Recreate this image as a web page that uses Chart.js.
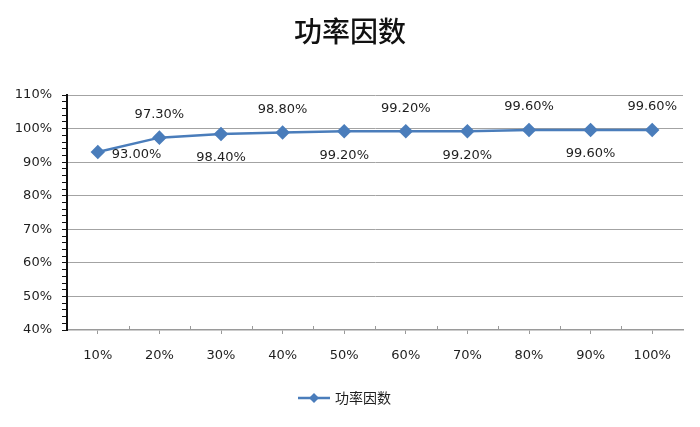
<!DOCTYPE html>
<html>
<head>
<meta charset="utf-8">
<script src="https://cdn.jsdelivr.net/npm/chart.js@4.4.1/dist/chart.umd.min.js"></script>
<style>
  html, body { margin: 0; padding: 0; background: #fff; }
  #wrap { width: 700px; height: 427px; position: relative; }
</style>
</head>
<body>
<div id="wrap"><canvas id="c" width="700" height="427"></canvas></div>
<script>
// Load rate categories and measured power factor (%)
const categories = ['10%', '20%', '30%', '40%', '50%', '60%', '70%', '80%', '90%', '100%'];
const powerFactor = [93.00, 97.30, 98.40, 98.80, 99.20, 99.20, 99.20, 99.60, 99.60, 99.60];
const seriesName = '功率因数';
const chartTitle = '功率因数';

const LINE_COLOR = '#4a7dbb';
const TEXT_COLOR = '#1e1e1e';
const FONT = '"DejaVu Sans", sans-serif';

// Title, legend, value labels and the small upward x-axis ticks
const decorations = {
  id: 'decorations',
  afterDatasetsDraw(chart) {
    const ctx = chart.ctx;
    const meta = chart.getDatasetMeta(0);
    ctx.save();
    ctx.fillStyle = TEXT_COLOR;
    ctx.font = '13px ' + FONT;
    meta.data.forEach((pt, i) => {
      const txt = powerFactor[i].toFixed(2) + '%';
      ctx.textBaseline = 'middle';
      if (i === 0) {
        ctx.textAlign = 'left';
        ctx.fillText(txt, pt.x + 14, pt.y + 3);
      } else if (i % 2 === 1) {
        ctx.textAlign = 'center';
        ctx.fillText(txt, pt.x, pt.y - 23);
      } else {
        ctx.textAlign = 'center';
        ctx.fillText(txt, pt.x, pt.y + 24);
      }
    });
    ctx.restore();
  },
  afterDraw(chart) {
    const ctx = chart.ctx;
    const x = chart.scales.x;
    const area = chart.chartArea;
    ctx.save();
    // category boundary ticks above the x axis
    ctx.strokeStyle = '#9a9a9a';
    ctx.lineWidth = 1;
    for (let i = 1; i < categories.length; i++) {
      const bx = Math.round((x.getPixelForValue(i - 1) + x.getPixelForValue(i)) / 2) + 0.5;
      ctx.beginPath();
      ctx.moveTo(bx, area.bottom);
      ctx.lineTo(bx, area.bottom - 4);
      ctx.stroke();
    }
    // title
    ctx.fillStyle = '#111';
    ctx.font = '500 28px "Noto Sans CJK SC", sans-serif';
    ctx.textAlign = 'center';
    ctx.textBaseline = 'middle';
    ctx.fillText(chartTitle, 350, 31);
    // legend
    const ly = 398;
    ctx.strokeStyle = LINE_COLOR;
    ctx.lineWidth = 2.5;
    ctx.beginPath();
    ctx.moveTo(298, ly);
    ctx.lineTo(330, ly);
    ctx.stroke();
    ctx.fillStyle = LINE_COLOR;
    ctx.beginPath();
    ctx.moveTo(314, ly - 5);
    ctx.lineTo(319, ly);
    ctx.lineTo(314, ly + 5);
    ctx.lineTo(309, ly);
    ctx.closePath();
    ctx.fill();
    ctx.fillStyle = TEXT_COLOR;
    ctx.font = '14px "Noto Sans CJK SC", sans-serif';
    ctx.textAlign = 'left';
    ctx.fillText(seriesName, 335, ly);
    ctx.restore();
  }
};

new Chart(document.getElementById('c'), {
  type: 'line',
  data: {
    labels: categories,
    datasets: [{
      label: seriesName,
      data: powerFactor,
      borderColor: LINE_COLOR,
      backgroundColor: LINE_COLOR,
      borderWidth: 2.5,
      pointStyle: 'rectRot',
      pointRadius: 5.5,
      pointHoverRadius: 5.5,
      tension: 0
    }]
  },
  options: {
    responsive: false,
    animation: false,
    devicePixelRatio: 1,
    layout: { padding: { top: 95, right: 17, bottom: 0, left: 0 } },
    plugins: {
      legend: { display: false },
      title: { display: false },
      tooltip: { enabled: false }
    },
    scales: {
      x: {
        offset: true,
        afterFit(scale) { scale.height = 97; },
        border: { color: '#9a9a9a', width: 1.5 },
        grid: {
          offset: false,
          drawOnChartArea: false,
          drawTicks: true,
          tickLength: 4,
          tickColor: '#9a9a9a'
        },
        ticks: {
          color: TEXT_COLOR,
          font: { family: FONT, size: 13 },
          padding: 14,
          maxRotation: 0
        }
      },
      y: {
        min: 40,
        max: 110,
        afterFit(scale) { scale.width = 67; },
        border: { color: '#111', width: 2 },
        grid: {
          color: (c) => (c.tick && c.tick.value % 10 === 0 && c.tick.value !== 40) ? '#a3a3a3' : 'rgba(0,0,0,0)',
          lineWidth: 1,
          drawTicks: true,
          tickLength: 5,
          tickColor: '#111'
        },
        ticks: {
          stepSize: 2,
          autoSkip: false,
          color: TEXT_COLOR,
          font: { family: FONT, size: 13 },
          padding: 10,
          callback: (v) => (v % 10 === 0 ? v + '%' : '')
        }
      }
    }
  },
  plugins: [decorations]
});
</script>
</body>
</html>
